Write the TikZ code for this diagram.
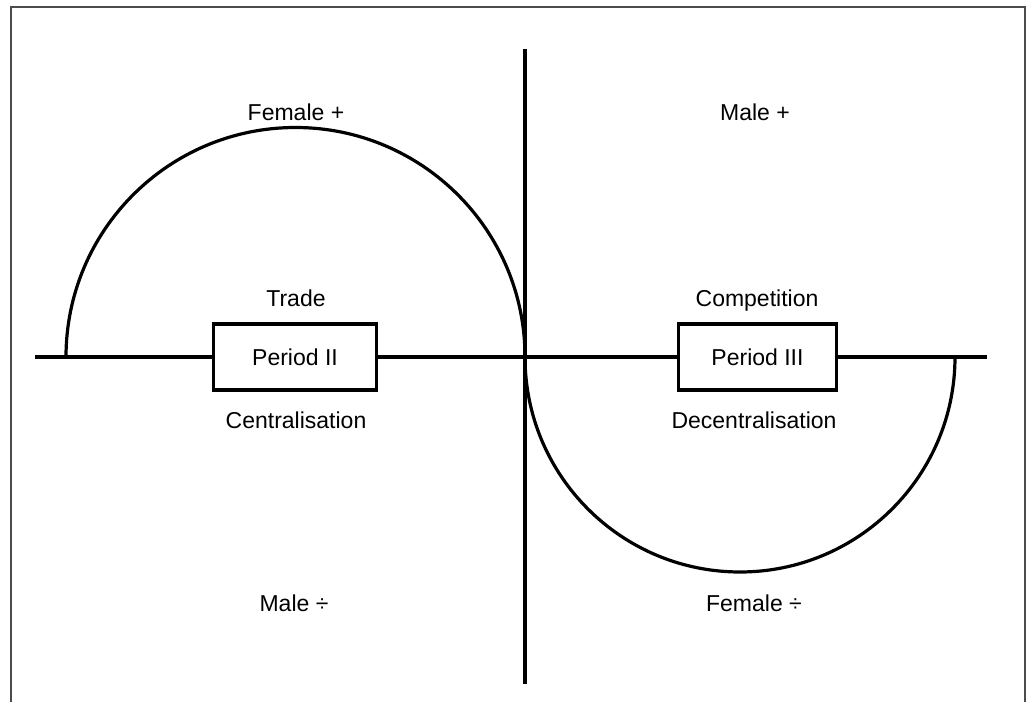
\documentclass[tikz,border=0pt]{standalone}
\usepackage{fontspec}
\setmainfont{Liberation Sans}
\begin{document}
\begin{tikzpicture}[x=1pt,y=1pt,
  ln/.style={line width=3.2pt,black},
  periodbox/.style={draw,line width=3.2pt,minimum width=#1,minimum height=66pt,inner sep=0pt,font=\fontsize{23}{27}\selectfont},
  lbl/.style={inner sep=0pt,font=\fontsize{23}{27}\selectfont}]
\useasboundingbox (0,0) rectangle (1028,702);
% frame (open at bottom)
\draw[line width=1.8pt,black!70] (11,0) -- (11,695) -- (1025,695) -- (1025,0);
% axes
\coordinate (L) at (35,345);
\coordinate (R) at (987,345);
\coordinate (O) at (525,345);
\coordinate (T) at (525,653);
\coordinate (B) at (525,18);
\node[periodbox=163pt] (p2) at (295,345) {Period II};
\node[periodbox=158pt] (p3) at (757.5,345) {Period III};
\draw[ln] (L) -- (p2.west);
\draw[ln] (p2.east) -- (O) -- (p3.west);
\draw[ln] (p3.east) -- (R);
\draw[ln] (T) -- (B);
% arcs
\coordinate (a1) at (66,345);
\coordinate (a2) at (525,345);
\draw[ln] (a1) arc[start angle=180,end angle=0,radius=229.5];
\draw[ln] (a2) arc[start angle=180,end angle=360,radius=215];
% labels
\node[lbl] (fp) at (296,590) {Female +};
\node[lbl] (mp) at (755,590) {Male +};
\node[lbl] (tr) at (296,404) {Trade};
\node[lbl] (ce) at (296,282) {Centralisation};
\node[lbl] (co) at (757,401) {Competition};
\node[lbl] (de) at (754,282) {Decentralisation};
\node[lbl] (mm) at (294,99) {Male ÷};
\node[lbl] (fm) at (754,99) {Female ÷};
\end{tikzpicture}
\end{document}
